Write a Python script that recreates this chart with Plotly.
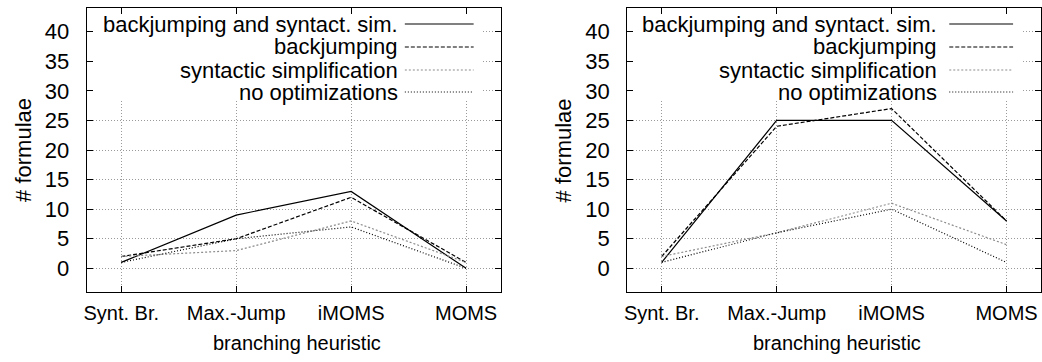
import plotly.graph_objects as go

W, H = 1042, 362

categories = ["Synt. Br.", "Max.-Jump", "iMOMS", "MOMS"]
series_names = ["backjumping and syntact. sim.", "backjumping",
                "syntactic simplification", "no optimizations"]

left_bj_ss = [1, 9, 13, 0]
left_bj = [2, 5, 12, 1]
left_ss = [2, 3, 8, 1]
left_none = [1, 5, 7, 0]

right_bj_ss = [1, 25, 25, 8]
right_bj = [2, 24, 27, 8]
right_ss = [2, 6, 11, 4]
right_none = [1, 6, 10, 1]

y_ticks = [0, 5, 10, 15, 20, 25, 30, 35, 40]

FONT = "Liberation Sans"

styles = [
    dict(color="#000000", width=1.2, dash="solid"),
    dict(color="#000000", width=1.2, dash="4px,2px"),
    dict(color="#8c8c8c", width=1.2, dash="2px,2px"),
    dict(color="#000000", width=1.2, dash="1px,2px"),
]
legend_sample_styles = [
    dict(color="#808080", width=2, dash="solid"),
    dict(color="#000000", width=1.2, dash="4px,2px"),
    dict(color="#8c8c8c", width=1.2, dash="2px,2px"),
    dict(color="#000000", width=1.2, dash="1px,2px"),
]

fig = go.Figure()

xpos = list(range(len(categories)))
panels = [
    ("x", "y", [left_bj_ss, left_bj, left_ss, left_none]),
    ("x2", "y2", [right_bj_ss, right_bj, right_ss, right_none]),
]
for xa, ya, data in panels:
    for name, vals, st in zip(series_names, data, styles):
        fig.add_trace(go.Scatter(x=xpos, y=vals, mode="lines", name=name,
                                 line=st, xaxis=xa, yaxis=ya,
                                 showlegend=False))

left_px = [(84, 499), (626, 1041)]
top_px, bot_px = 8, 292
ydom = [1 - bot_px / H, 1 - top_px / H]
XR = [-0.3, 3.3]
YR = [-4, 44]

axis_common = dict(showline=True, linecolor="#000000", linewidth=1,
                   mirror="allticks", ticks="inside", ticklen=6,
                   tickcolor="#000000", showgrid=True, gridcolor="#9a9a9a",
                   griddash="1px,2px", gridwidth=1, zeroline=False)

layout = dict(width=W, height=H, margin=dict(l=0, r=0, t=0, b=0),
              paper_bgcolor="white", plot_bgcolor="white",
              font=dict(family=FONT, size=21, color="#000000"))

for i, (l, r) in enumerate(left_px):
    sx = "" if i == 0 else "2"
    layout["xaxis" + sx] = dict(axis_common, domain=[l / W, r / W],
                                range=XR, tickmode="array",
                                tickvals=xpos, ticktext=categories,
                                anchor="y" + sx, ticklabelstandoff=3,
                                tickfont=dict(family=FONT, size=20))
    layout["yaxis" + sx] = dict(axis_common, domain=ydom, range=YR,
                                tickmode="array", tickvals=y_ticks,
                                anchor="x" + sx, ticklabelstandoff=12,
                                tickfont=dict(family=FONT, size=22))
fig.update_layout(**layout)


def px_to_x(px, l, r):
    return XR[0] + (px - l) / (r - l) * (XR[1] - XR[0])


def px_to_y(py):
    return YR[0] + (bot_px - py) / (bot_px - top_px) * (YR[1] - YR[0])


annotations = []
shapes = []
row_y = [24, 47, 70, 92]
legend_cfg = [
    dict(text_right=397, s0=403, s1=472, box_right=481),
    dict(text_right=938, s0=949, s1=1013, box_right=1023),
]
for i, ((l, r), cfg) in enumerate(zip(left_px, legend_cfg)):
    sx = "" if i == 0 else "2"
    shapes.append(dict(type="rect", xref="x" + sx, yref="y" + sx,
                       x0=px_to_x(l + 1, l, r), x1=px_to_x(cfg["box_right"], l, r),
                       y0=px_to_y(100), y1=px_to_y(top_px + 1),
                       fillcolor="white", line=dict(width=0),
                       layer="between"))
for i, ((l, r), cfg) in enumerate(zip(left_px, legend_cfg)):
    for name, yy, st in zip(series_names, row_y, legend_sample_styles):
        annotations.append(dict(xref="paper", yref="paper",
                                x=cfg["text_right"] / W, y=1 - yy / H,
                                xanchor="right", yanchor="middle",
                                text=name, showarrow=False, borderpad=0,
                                font=dict(family=FONT, size=22)))
        shapes.append(dict(type="line", xref="paper", yref="paper",
                           x0=cfg["s0"] / W, x1=cfg["s1"] / W,
                           y0=1 - yy / H, y1=1 - yy / H, line=st,
                           layer="above"))
    annotations.append(dict(xref="paper", yref="paper",
                            x=(l - 63) / W, y=1 - 150 / H,
                            xanchor="center", yanchor="middle",
                            text="# formulae", textangle=-90,
                            showarrow=False, font=dict(family=FONT, size=22)))
    annotations.append(dict(xref="paper", yref="paper",
                            x=((l + r) / 2 + 3) / W, y=1 - 343 / H,
                            xanchor="center", yanchor="middle",
                            text="branching heuristic", showarrow=False,
                            font=dict(family=FONT, size=20)))

fig.update_layout(annotations=annotations, shapes=shapes)
fig.write_html("out.html")
